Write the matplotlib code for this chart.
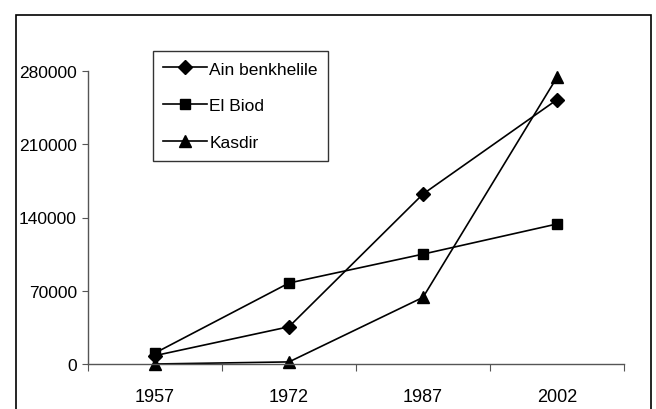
import matplotlib
matplotlib.use("Agg")
import matplotlib.pyplot as plt
from matplotlib.patches import Rectangle
from matplotlib.ticker import FixedLocator, NullFormatter, FixedFormatter

years = ["1957", "1972", "1987", "2002"]
ain_benkhelile = [8000, 35600, 162400, 252600]
el_biod = [10500, 77400, 105000, 133800]
kasdir = [0, 2000, 63700, 274000]
y_ticks = [0, 70000, 140000, 210000, 280000]

plt.rcParams['font.family'] = ['Liberation Sans', 'DejaVu Sans']

W, H = 656, 410
fig = plt.figure(figsize=(W / 100, H / 100), dpi=100)
fig.patch.set_facecolor('white')

# outer border of the chart area
fig.patches.append(Rectangle((16 / W, -0.05), 635 / W, 1.05 - 16 / H,
                             transform=fig.transFigure, fill=False,
                             edgecolor='black', linewidth=1.2))

ax = fig.add_axes([88 / W, 1 - 365 / H, (624 - 88) / W, (365 - 72) / H])
x = list(range(len(years)))
ax.plot(x, ain_benkhelile, color='black', lw=1.2, marker='D', ms=7,
        label='Ain benkhelile', clip_on=False)
ax.plot(x, el_biod, color='black', lw=1.2, marker='s', ms=7,
        label='El Biod', clip_on=False)
ax.plot(x, kasdir, color='black', lw=1.2, marker='^', ms=8,
        label='Kasdir', clip_on=False)

ax.set_xlim(-0.5, len(years) - 0.5)
ax.set_ylim(0, 280000)
ax.spines['top'].set_visible(False)
ax.spines['right'].set_visible(False)
for s in ['left', 'bottom']:
    ax.spines[s].set_color('#555555')
    ax.spines[s].set_linewidth(1.0)

ax.xaxis.set_major_locator(FixedLocator([i - 0.5 for i in range(len(years) + 1)]))
ax.xaxis.set_major_formatter(NullFormatter())
ax.xaxis.set_minor_locator(FixedLocator(x))
ax.xaxis.set_minor_formatter(FixedFormatter(years))
ax.tick_params(axis='x', which='major', direction='out', length=5, color='#555555')
ax.tick_params(axis='x', which='minor', length=0, pad=17, labelsize=13)

ax.set_yticks(y_ticks)
ax.set_yticklabels([str(v) for v in y_ticks])
ax.tick_params(axis='y', direction='out', length=4, color='#555555', pad=4, labelsize=12.5)

leg = ax.legend(loc='upper left', bbox_to_anchor=((153 - 88) / (624 - 88), (365 - 52) / (365 - 72)),
                frameon=True, fancybox=False, edgecolor='black', fontsize=12.5,
                handlelength=2.5, handletextpad=0.15, borderpad=0.6,
                labelspacing=1.25, borderaxespad=0)
leg.get_frame().set_linewidth(1.0)

fig.savefig('out.png', dpi=100)
